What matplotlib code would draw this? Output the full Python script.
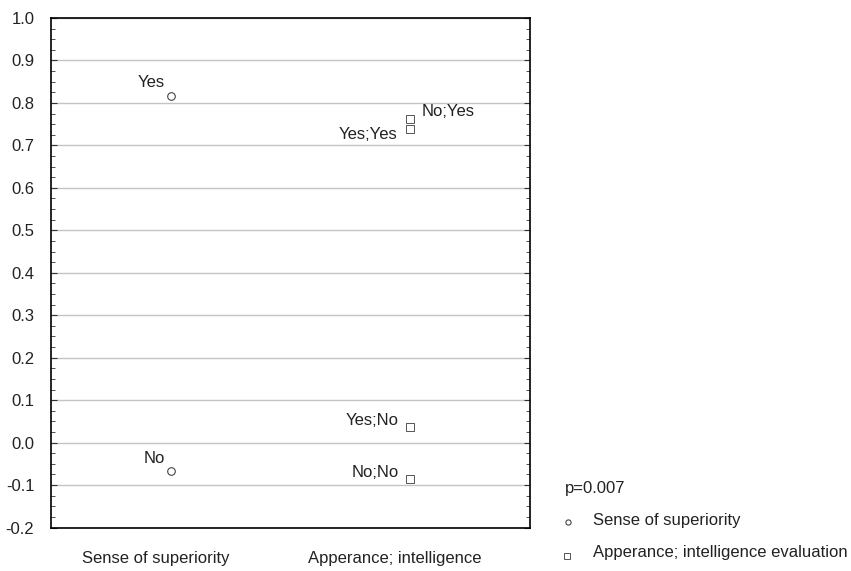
import matplotlib.pyplot as plt
from matplotlib.ticker import MultipleLocator, AutoMinorLocator
from matplotlib.transforms import ScaledTranslation

plt.rcParams['font.family'] = ['Liberation Sans', 'DejaVu Sans']

# Dane
categories = ["Sense of superiority", "Apperance; intelligence"]
sup_labels = ["Yes", "No"]
sup_values = [0.817, -0.068]
app_labels = ["No;Yes", "Yes;Yes", "Yes;No", "No;No"]
app_values = [0.763, 0.739, 0.036, -0.086]
p_text = "p=0.007"

FS = 12
TXT = '#222222'

fig = plt.figure(figsize=(8.51, 5.71), dpi=100)
ax = fig.add_axes([51 / 851, 1 - 527.5 / 571, 479 / 851, 509.5 / 571])

ax.scatter([0] * len(sup_values), sup_values, marker='o', s=30,
           facecolors='white', edgecolors='#444444', linewidths=0.8, zorder=3)
ax.scatter([1] * len(app_values), app_values, marker='s', s=26,
           facecolors='white', edgecolors='#555555', linewidths=0.7, zorder=3)

# etykiety punktów (przesunięcia w punktach)
for lab, v in zip(sup_labels, sup_values):
    ax.annotate(lab, (0, v), xytext=(-4, 6), textcoords='offset points',
                ha='right', va='baseline', fontsize=FS, color=TXT)

offsets = {"No;Yes": (8, 2, 'left'), "Yes;Yes": (-9, -7, 'right'),
           "Yes;No": (-8, 2, 'right'), "No;No": (-8, 1.5, 'right')}
for lab, v in zip(app_labels, app_values):
    dx, dy, ha = offsets[lab]
    ax.annotate(lab, (1, v), xytext=(dx, dy), textcoords='offset points',
                ha=ha, va='baseline', fontsize=FS, color=TXT)

ax.set_xlim(-0.5, 1.5)
ax.set_ylim(-0.2, 1.0)
ax.yaxis.set_major_locator(MultipleLocator(0.1))
ax.yaxis.set_minor_locator(AutoMinorLocator(4))
ax.yaxis.set_major_formatter(plt.FuncFormatter(lambda v, _: f"{v:.1f}"))
ax.grid(axis='y', which='major', color='#c4c4c4', linewidth=1.0)
ax.set_axisbelow(True)

ax.set_xticks([0, 1])
ax.set_xticklabels(categories, fontsize=FS, color=TXT)
ax.tick_params(axis='x', length=0, pad=17)
# podpisy kategorii są lekko przesunięte w lewo względem punktów
shift = ScaledTranslation(-15 / 100, 0, fig.dpi_scale_trans)
for t in ax.get_xticklabels():
    t.set_transform(t.get_transform() + shift)

ax.tick_params(axis='y', which='both', direction='in', right=True, left=True,
               labelsize=FS, labelcolor=TXT, color='#333333', pad=12)
ax.tick_params(axis='y', which='major', length=4)
ax.tick_params(axis='y', which='minor', length=3)

for s in ax.spines.values():
    s.set_color('black')
    s.set_linewidth(1.2)

# Legenda poza osiami
fig.text(565 / 851, 1 - 489 / 571, p_text, fontsize=FS, color=TXT,
         va='center', ha='left')
leg_ax = fig.add_axes([0, 0, 1, 1], facecolor='none')
leg_ax.set_xlim(0, 851)
leg_ax.set_ylim(571, 0)
leg_ax.axis('off')
leg_ax.scatter([568], [522], marker='o', s=14, facecolors='white',
               edgecolors='#444444', linewidths=0.8)
leg_ax.scatter([567], [556], marker='s', s=14, facecolors='white',
               edgecolors='#555555', linewidths=0.7)
fig.text(593 / 851, 1 - 520 / 571, "Sense of superiority", fontsize=FS,
         color=TXT, va='center', ha='left')
fig.text(593 / 851, 1 - 553 / 571, "Apperance; intelligence evaluation",
         fontsize=FS, color=TXT, va='center', ha='left')

fig.savefig("out.png", dpi=100)
